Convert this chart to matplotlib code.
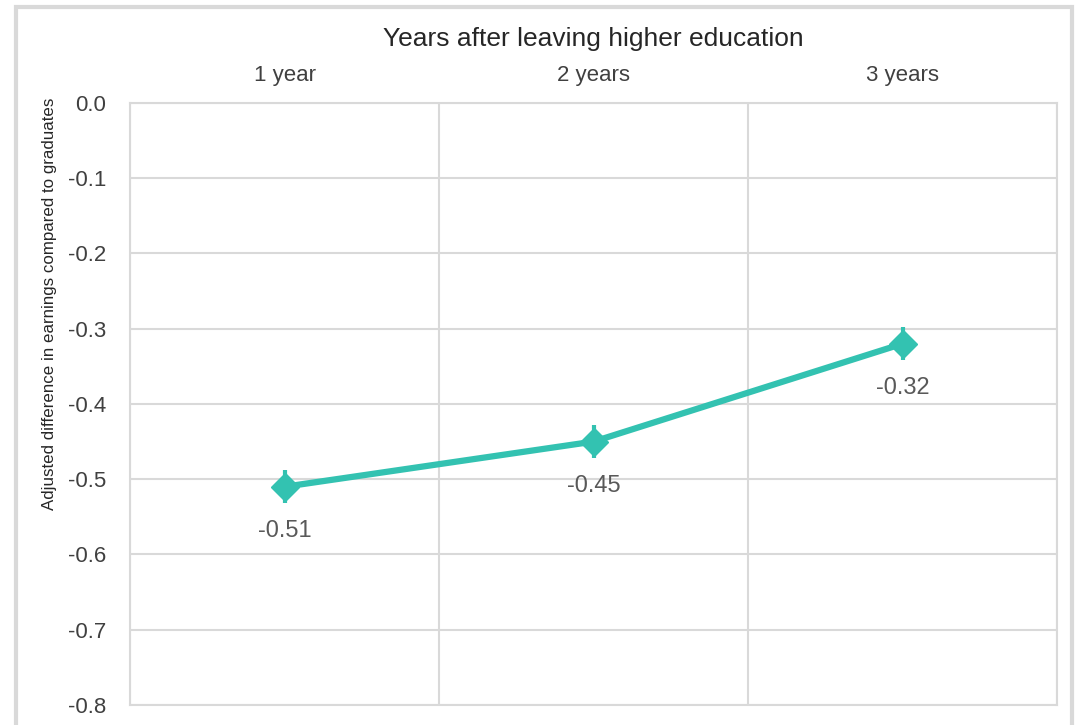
import numpy as np
import matplotlib.pyplot as plt
from matplotlib.patches import Rectangle

plt.rcParams['font.family'] = ['Liberation Sans', 'DejaVu Sans']

# data
years = ["1 year", "2 years", "3 years"]
diff = [-0.51, -0.45, -0.32]
err = [0.022, 0.022, 0.022]
yticks = [0.0, -0.1, -0.2, -0.3, -0.4, -0.5, -0.6, -0.7, -0.8]

teal = "#33C2B1"
grey = "#D9D9D9"
txt = "#404040"

fig = plt.figure(figsize=(10.81, 7.25), dpi=100)
ax = fig.add_axes([0.1203, 0.0276, 0.8575, 0.8304])

x = np.arange(len(years))
ax.errorbar(x, diff, yerr=err, color=teal, lw=4.5, marker="D", ms=14,
            elinewidth=3, capsize=0, zorder=3)
for xi, v in zip(x, diff):
    ax.annotate(f"{v:.2f}", (xi, v), xytext=(0, -32), textcoords="offset points",
                ha="center", va="center", fontsize=17, color="#595959")

ax.set_xlim(-0.5, len(years) - 0.5)
ax.set_ylim(-0.8, 0.0)
ax.set_yticks(yticks)
ax.set_yticklabels([f"{t:.1f}" for t in yticks])
ax.set_xticks(x)
ax.set_xticklabels(years)
ax.xaxis.tick_top()
ax.xaxis.set_label_position("top")
ax.set_xticks(np.arange(len(years) + 1) - 0.5, minor=True)
ax.grid(True, which="minor", axis="x", color=grey, lw=1.5)
ax.grid(True, which="major", axis="y", color=grey, lw=1.5)
ax.tick_params(which="both", length=0, labelsize=16, colors=txt)
ax.tick_params(axis="y", pad=17)
ax.tick_params(axis="x", pad=12)
for s in ax.spines.values():
    s.set_color(grey)
    s.set_linewidth(1.5)

ax.set_xlabel("Years after leaving higher education", fontsize=19, color="#262626", labelpad=14)
ax.set_ylabel("Adjusted difference in earnings compared to graduates", fontsize=12.2, color="#262626")
ax.yaxis.set_label_coords(-0.079, 0.667)

# outer frame
fig.patches.append(Rectangle((16 / 1081, -0.01), (1072 - 16) / 1081, 1 - 7 / 725 + 0.01,
                             transform=fig.transFigure, fill=False, edgecolor=grey, lw=3))

fig.savefig("out.png", dpi=100)
